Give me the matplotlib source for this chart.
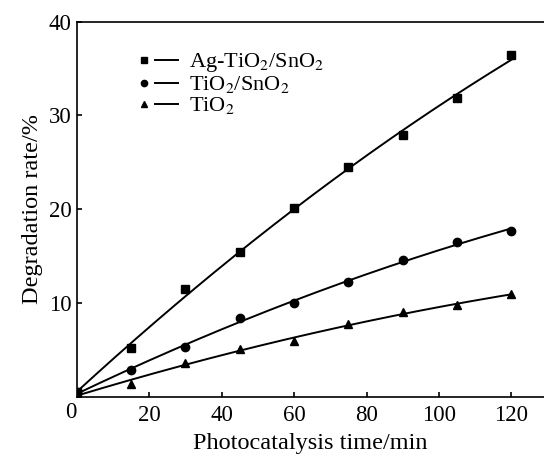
import numpy as np
import matplotlib
matplotlib.use("Agg")
import matplotlib.pyplot as plt
from matplotlib.lines import Line2D
from matplotlib.legend_handler import HandlerTuple

plt.rcParams['font.family'] = ['Liberation Serif', 'DejaVu Serif']
plt.rcParams['mathtext.fontset'] = 'stix'

# data
time_min = [0, 15, 30, 45, 60, 75, 90, 105, 120]
ag_tio2_sno2 = [0.5, 5.2, 11.5, 15.4, 20.1, 24.5, 27.9, 31.9, 36.4]
tio2_sno2 = [0.5, 2.8, 5.3, 8.4, 10.0, 12.2, 14.6, 16.5, 17.7]
tio2 = [0.3, 1.4, 3.6, 5.1, 5.9, 7.8, 9.0, 9.8, 10.9]

labels = ['Ag-TiO$_2$/SnO$_2$', 'TiO$_2$/SnO$_2$', 'TiO$_2$']
markers = ['s', 'o', '^']

fig = plt.figure(figsize=(5.44, 4.59), dpi=100)
ax = fig.add_axes([0.1412, 0.1358, 0.8588, 0.817])

t = np.array(time_min, dtype=float)
tt = np.linspace(0, 120, 200)
handles = []
for y, m in zip([ag_tio2_sno2, tio2_sno2, tio2], markers):
    ax.plot(t, y, linestyle='none', marker=m, color='black', markersize=6)
    # fitted curve through the measured points
    c = np.polyfit(t, y, 2)
    ax.plot(tt, np.polyval(c, tt), color='black', lw=1.4)
    h_mark = Line2D([], [], linestyle='none', marker=m, color='black', markersize=4.5)
    h_line = Line2D([], [], color='black', lw=1.4)
    handles.append((h_mark, h_line))

ax.legend(handles, labels, handler_map={tuple: HandlerTuple(ndivide=None, pad=0)},
          loc='upper left', bbox_to_anchor=(0.085, 0.962), frameon=False,
          fontsize=16, handlelength=2.07, handletextpad=0.5, labelspacing=0.0,
          borderpad=0.2)

ax.set_xlim(0, 129)
ax.set_ylim(0, 40)
ax.set_xticks([20, 40, 60, 80, 100, 120])
ax.set_yticks([10, 20, 30, 40])
ax.tick_params(direction='in', length=3.6, width=1.2, labelsize=16.5)
ax.tick_params(axis='x', pad=6)
ax.tick_params(axis='y', pad=3.6)
ax.annotate('0', xy=(0, 0), xytext=(0, -3.5), textcoords='offset points',
            ha='right', va='top', fontsize=16.5)
ax.spines['right'].set_visible(False)
for s in ['left', 'bottom', 'top']:
    ax.spines[s].set_linewidth(1.2)

ax.set_xlabel('Photocatalysis time/min', fontsize=17.5, labelpad=5)
ax.set_ylabel('Degradation rate/%', fontsize=17.5, labelpad=4)

fig.savefig('out.png', dpi=100)
